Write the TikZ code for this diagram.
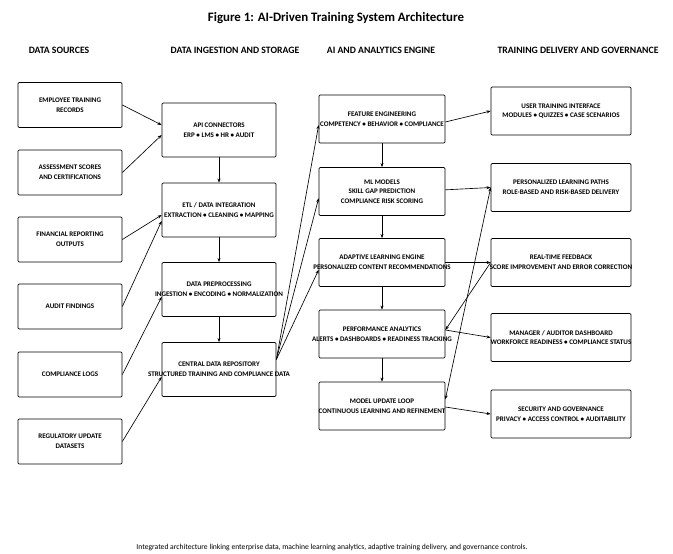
\documentclass[tikz,border=0pt]{standalone}
\usepackage{fontspec}
\setmainfont{Carlito}
\usetikzlibrary{arrows.meta}

\begin{document}
\begin{tikzpicture}[
    x=0.03cm, y=-0.03cm,
    >={Stealth[length=3.5pt, width=2.6pt]},
    srcbox/.style={draw, line width=0.6pt, rounded corners=1pt,
                   minimum width=3.12cm, minimum height=1.35cm},
    ingbox/.style={draw, line width=0.6pt, rounded corners=1pt,
                   minimum width=3.42cm, minimum height=1.62cm},
    aibox/.style={draw, line width=0.6pt, rounded corners=1pt,
                  minimum width=3.78cm, minimum height=1.44cm},
    outbox/.style={draw, line width=0.6pt, rounded corners=1pt,
                   minimum width=4.2cm, minimum height=1.44cm},
    txt/.style={font=\fontsize{6}{8.3}\selectfont\bfseries, align=center,
                inner sep=0pt},
    head/.style={font=\fontsize{8.3}{10}\selectfont\bfseries},
    link/.style={->, line width=0.55pt}
  ]
  \useasboundingbox (0,0) rectangle (673,553);

  % Title and column headers
  \node[font=\fontsize{11}{13}\selectfont\bfseries] (title) at (336,18)
    {Figure 1: AI-Driven Training System Architecture};
  \node[head] (h1) at (59,50) {DATA SOURCES};
  \node[head] (h2) at (235,50) {DATA INGESTION AND STORAGE};
  \node[head] (h3) at (381,50) {AI AND ANALYTICS ENGINE};
  \node[head] (h4) at (578,50) {TRAINING DELIVERY AND GOVERNANCE};

  % Data sources
  \node[srcbox, label={[txt]center:{EMPLOYEE TRAINING\\RECORDS}}]
    (src1) at (70,105) {};
  \node[srcbox, label={[txt]center:{ASSESSMENT SCORES\\AND CERTIFICATIONS}}]
    (src2) at (70,172.5) {};
  \node[srcbox, label={[txt]center:{FINANCIAL REPORTING\\OUTPUTS}}]
    (src3) at (70,239.5) {};
  \node[srcbox, label={[txt]center:AUDIT FINDINGS}]
    (src4) at (70,306.5) {};
  \node[srcbox, label={[txt]center:COMPLIANCE LOGS}]
    (src5) at (70,374.5) {};
  \node[srcbox, label={[txt]center:{REGULATORY UPDATE\\DATASETS}}]
    (src6) at (70,441.5) {};

  % Ingestion and storage
  \node[ingbox, label={[txt]center:{API CONNECTORS\\ERP • LMS • HR • AUDIT}}]
    (api) at (219,130) {};
  \node[ingbox, label={[txt]center:{ETL / DATA INTEGRATION\\EXTRACTION • CLEANING • MAPPING}}]
    (etl) at (219,210) {};
  \node[ingbox, label={[txt]center:{DATA PREPROCESSING\\INGESTION • ENCODING • NORMALIZATION}}]
    (prep) at (219,289.5) {};
  \node[ingbox, label={[txt]center:{CENTRAL DATA REPOSITORY\\STRUCTURED TRAINING AND COMPLIANCE DATA}}]
    (repo) at (219,369.5) {};

  % AI and analytics engine
  \node[aibox, label={[txt]center:{FEATURE ENGINEERING\\COMPETENCY • BEHAVIOR • COMPLIANCE}}]
    (feat) at (382,119) {};
  \node[aibox, label={[txt]center:{ML MODELS\\SKILL GAP PREDICTION\\COMPLIANCE RISK SCORING}}]
    (ml) at (382,191.5) {};
  \node[aibox, label={[txt]center:{ADAPTIVE LEARNING ENGINE\\PERSONALIZED CONTENT RECOMMENDATIONS}}]
    (adapt) at (382,262.5) {};
  \node[aibox, label={[txt]center:{PERFORMANCE ANALYTICS\\ALERTS • DASHBOARDS • READINESS TRACKING}}]
    (perf) at (382,334) {};
  \node[aibox, label={[txt]center:{MODEL UPDATE LOOP\\CONTINUOUS LEARNING AND REFINEMENT}}]
    (loop) at (382,406) {};

  % Delivery and governance
  \node[outbox, label={[txt]center:{USER TRAINING INTERFACE\\MODULES • QUIZZES • CASE SCENARIOS}}]
    (ui) at (561,111) {};
  \node[outbox, label={[txt]center:{PERSONALIZED LEARNING PATHS\\ROLE-BASED AND RISK-BASED DELIVERY}}]
    (paths) at (561,187.5) {};
  \node[outbox, label={[txt]center:{REAL-TIME FEEDBACK\\SCORE IMPROVEMENT AND ERROR CORRECTION}}]
    (fb) at (561,262.5) {};
  \node[outbox, label={[txt]center:{MANAGER / AUDITOR DASHBOARD\\WORKFORCE READINESS • COMPLIANCE STATUS}}]
    (dash) at (561,337.5) {};
  \node[outbox, label={[txt]center:{SECURITY AND GOVERNANCE\\PRIVACY • ACCESS CONTROL • AUDITABILITY}}]
    (sec) at (561,414) {};

  % Sources into ingestion
  \draw[link] (src1.east) -- ([yshift=0.15cm]api.west);
  \draw[link] (src2.east) -- ([yshift=-0.15cm]api.west);
  \draw[link] (src3.east) -- ([yshift=-0.15cm]etl.west);
  \draw[link] (src4.east) -- ([yshift=-0.33cm]etl.west);
  \draw[link] (src5.east) -- ([yshift=-0.22cm]prep.west);
  \draw[link] (src6.east) -- ([yshift=-0.22cm]repo.west);

  % Vertical flow
  \foreach \a/\b in {api/etl, etl/prep, prep/repo,
                     feat/ml, ml/adapt, adapt/perf, perf/loop} {
    \draw[link] (\a.south) -- (\b.north);
  }

  % Repository into engine
  \draw[link] ([yshift=0.3cm]repo.east) -- ([yshift=-0.18cm]feat.west);
  \draw[link] ([yshift=0.3cm]repo.east) -- ([yshift=-0.2cm]ml.west);
  \draw[link] ([yshift=0.3cm]repo.east) -- ([yshift=-0.22cm]adapt.west);

  % Engine into delivery
  \draw[link] ([yshift=-0.09cm]feat.east) -- (ui.west);
  \draw[link] ([yshift=0.05cm]ml.east) -- (paths.west);
  \draw[link] (adapt.east) -- (fb.west);
  \draw[link] ([yshift=0.12cm]perf.east) -- ([yshift=0.0cm]dash.west);
  \draw[link] ([yshift=-0.03cm]loop.east) -- ([yshift=0.0cm]sec.west);
  \draw[link] (fb.west) -- ([yshift=0.12cm]perf.east);
  \draw[link, <->] ([yshift=0.2cm]loop.east) -- ([yshift=0.0cm]paths.west);

  % Caption
  \node[font=\fontsize{6.5}{8}\selectfont] (cap) at (332,548)
    {Integrated architecture linking enterprise data, machine learning analytics, adaptive training delivery, and governance controls.};
\end{tikzpicture}
\end{document}
